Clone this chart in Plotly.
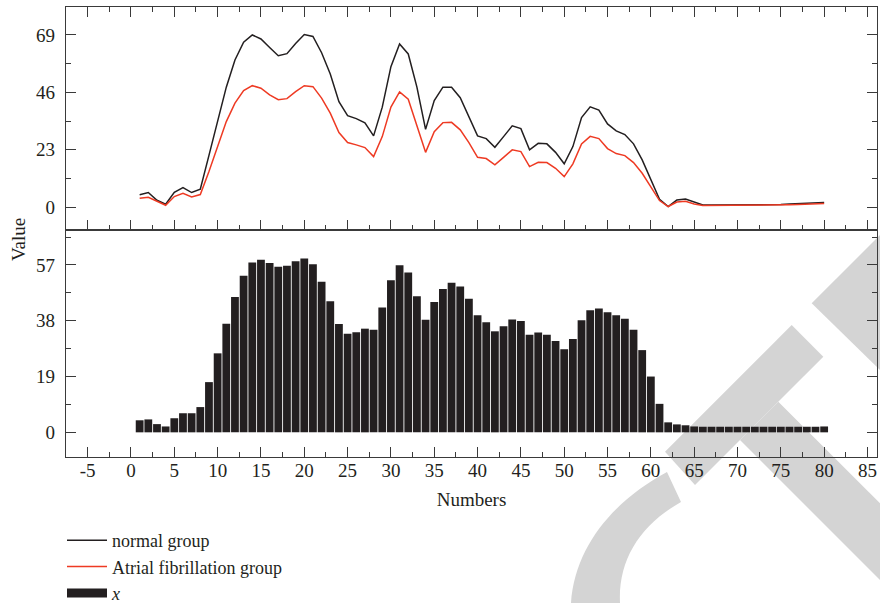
import plotly.graph_objects as go

numbers = list(range(1, 81))

normal_group = [5.0, 5.9, 2.8, 1.2, 6.0, 7.9, 5.9, 7.2, 20.8, 34.4,
                48.1, 59.0, 66.1, 69.0, 67.4, 64.0, 60.7, 61.5, 65.6, 69.2,
                68.4, 61.9, 53.4, 42.3, 36.7, 35.5, 33.8, 28.6, 40.1, 56.3,
                65.4, 61.4, 48.1, 31.2, 42.7, 48.1, 48.1, 43.9, 36.3, 28.6,
                27.5, 24.0, 28.3, 32.6, 31.5, 23.0, 25.6, 25.4, 22.0, 17.4,
                24.3, 35.9, 40.2, 38.9, 33.4, 30.6, 29.1, 25.4, 19.0, 10.9,
                3.2, 0.3, 2.9, 3.3, 2.0, 0.9, 0.9, 0.9, 0.9, 1.0,
                1.0, 1.1, 1.0, 1.0, 1.1, 1.3, 1.5, 1.7, 1.8, 1.9]

af_group = [3.6, 4.0, 2.4, 0.8, 4.3, 5.6, 4.1, 5.1, 14.3, 24.3,
            34.3, 41.7, 46.7, 48.7, 47.7, 45.0, 43.1, 43.5, 46.3, 48.7,
            48.3, 43.7, 37.7, 29.9, 25.9, 25.0, 23.9, 20.3, 28.3, 40.1,
            46.2, 43.3, 33.0, 22.0, 30.3, 33.9, 34.0, 31.0, 25.9, 20.0,
            19.5, 17.0, 20.0, 23.0, 22.3, 16.3, 18.0, 17.9, 15.6, 12.3,
            17.4, 25.4, 28.4, 27.5, 23.5, 21.5, 20.7, 17.9, 13.6, 8.3,
            2.7, 0.3, 2.1, 2.4, 1.3, 0.7, 0.7, 0.7, 0.7, 0.7,
            0.7, 0.8, 0.7, 0.7, 0.8, 1.0, 1.1, 1.3, 1.4, 1.5]

x_values = [4.1, 4.4, 2.8, 2.0, 4.8, 6.5, 6.5, 8.6, 17.1, 26.9,
            37.0, 46.1, 53.3, 57.8, 58.8, 57.7, 56.4, 56.7, 58.3, 59.2,
            57.2, 51.3, 44.6, 36.9, 33.6, 34.1, 35.3, 34.9, 42.5, 51.8,
            56.9, 54.4, 46.3, 38.3, 44.4, 48.8, 50.9, 49.7, 45.5, 39.9,
            37.5, 34.4, 36.1, 38.4, 37.9, 33.2, 34.0, 33.2, 31.1, 28.3,
            31.8, 38.2, 41.6, 42.2, 40.9, 39.9, 38.7, 34.9, 28.0, 19.0,
            9.7, 3.4, 2.7, 2.4, 2.0, 1.9, 1.9, 1.9, 1.9, 1.9,
            1.9, 1.9, 1.9, 1.9, 1.9, 1.9, 1.9, 1.9, 1.9, 2.0]

top_ticks = [0, 23, 46, 69]
bottom_ticks = [0, 19, 38, 57]
x_ticks = [-5, 0, 5, 10, 15, 20, 25, 30, 35, 40, 45, 50, 55, 60, 65, 70, 75, 80, 85]
x_tick_labels = [str(v) for v in x_ticks]  # plain hyphen for "-5"

W, H = 880, 603
ML, MR, MT, MB = 66, 3, 7, 146
PW, PH = W - ML - MR, H - MT - MB

def px(X, Y):
    return (X - ML) / PW, (H - MB - Y) / PH

def pt(X, Y):
    xp, yp = px(X, Y)
    return f"{xp:.5f},{yp:.5f}"

def path(points, close=True):
    s = ""
    for i, (X, Y) in enumerate(points):
        s += ("M" if i == 0 else "L") + pt(X, Y) + " "
    return s + ("Z" if close else "")

BLACK = "#231f20"
RED = "#ee3a23"
AX = "#3a3a3a"
FONT = "Liberation Serif"
WM = "#d4d4d4"
FS = 19

fig = go.Figure()
fig.add_trace(go.Scatter(x=numbers, y=normal_group, mode="lines", name="normal group",
                         line=dict(color=BLACK, width=1.5), xaxis="x", yaxis="y"))
fig.add_trace(go.Scatter(x=numbers, y=af_group, mode="lines", name="Atrial fibrillation group",
                         line=dict(color=RED, width=1.5), xaxis="x", yaxis="y"))
fig.add_trace(go.Bar(x=numbers, y=x_values, name="<i>x</i>", legendgroup="x", showlegend=False,
                     marker=dict(color=BLACK, line=dict(width=0)),
                     xaxis="x2", yaxis="y2"))
# legend swatch for the bars (wide black rectangle like the reference)
fig.add_trace(go.Scatter(x=[None], y=[None], mode="lines", name="<i>x</i>", legendgroup="x",
                         line=dict(color=BLACK, width=9), xaxis="x2", yaxis="y2"))

split = (H - MB - 230) / PH

common_x = dict(range=[-7.5, 86.1], tickmode="array", tickvals=x_ticks, ticktext=x_tick_labels,
                ticks="inside", ticklen=10,
                tickwidth=1.2, tickcolor=AX, showline=True, linecolor=AX, linewidth=1.3,
                showgrid=False, zeroline=False, tickfont=dict(size=FS),
                minor=dict(dtick=2.5, tick0=0, ticks="inside", ticklen=5, tickwidth=1.2, tickcolor=AX))

fig.update_layout(
    width=W, height=H,
    margin=dict(l=ML, r=MR, t=MT, b=MB, autoexpand=False),
    paper_bgcolor="white", plot_bgcolor="rgba(0,0,0,0)",
    font=dict(family=FONT, size=FS, color="#231f20"),
    bargap=0.1,
    xaxis=dict(**common_x, domain=[0, 1], anchor="y", mirror="ticks", showticklabels=False),
    yaxis=dict(domain=[split, 1], range=[-9.1, 80.2], tickmode="array", tickvals=top_ticks,
               ticks="inside", ticklen=10, tickwidth=1.2, tickcolor=AX, showline=True, linecolor=AX,
               linewidth=1.3, mirror="ticks", showgrid=False, zeroline=False, ticklabelstandoff=6,
               tickfont=dict(size=FS),
               minor=dict(dtick=11.5, tick0=0, ticks="inside", ticklen=5, tickwidth=1.2, tickcolor=AX)),
    xaxis2=dict(**common_x, domain=[0, 1], anchor="y2", mirror=True, showticklabels=True,
                ticklabelstandoff=-4,
                title=dict(text="Numbers", standoff=12, font=dict(size=FS))),
    yaxis2=dict(domain=[0, split], range=[-8.4, 68.9], tickmode="array", tickvals=bottom_ticks,
                ticks="inside", ticklen=10, tickwidth=1.2, tickcolor=AX, showline=True, linecolor=AX,
                linewidth=1.3, mirror="ticks", showgrid=False, zeroline=False, ticklabelstandoff=6,
                tickfont=dict(size=FS),
                minor=dict(dtick=9.5, tick0=0, ticks="inside", ticklen=5, tickwidth=1.2, tickcolor=AX)),
    legend=dict(x=px(62, 0)[0], xanchor="left", y=px(0, 522)[1], yanchor="top", bgcolor="rgba(0,0,0,0)",
                font=dict(size=18), tracegroupgap=0, itemwidth=40),
    showlegend=True,
)

fig.add_annotation(text="Value", textangle=-90, xref="paper", yref="paper",
                   x=px(18, 0)[0], y=px(0, 240)[1], xanchor="center", yanchor="middle",
                   showarrow=False, font=dict(size=FS))

# light-grey watermark in the background
shapes = [
    path([(880, 235), (811.7, 303.3), (880, 370)]),
    path([(791.7, 325), (823.3, 356.7), (695, 485), (665, 451.7)]),
    path([(778.3, 401.7), (880, 503.3), (880, 580), (740, 440)]),
]
arc = (f"M{pt(667, 472)} C{pt(615, 500)} {pt(575, 545)} {pt(571, 603)} "
       f"L{pt(620, 603)} C{pt(618, 560)} {pt(640, 525)} {pt(681, 502)} Z")
shapes.append(arc)
for s in shapes:
    fig.add_shape(type="path", path=s, xref="paper", yref="paper", fillcolor=WM,
                  line=dict(width=0), layer="below")

fig.write_html("out.html")
